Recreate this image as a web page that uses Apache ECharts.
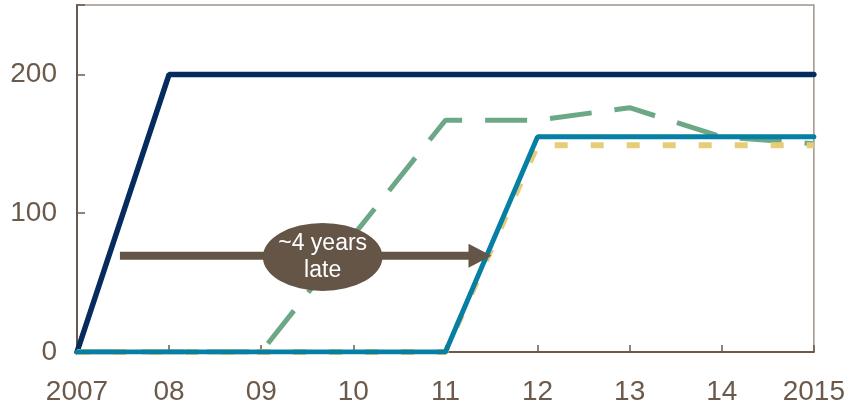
<!DOCTYPE html>
<html><head><meta charset="utf-8">
<script src="https://cdn.jsdelivr.net/npm/echarts@6/dist/echarts.min.js"></script>
<style>html,body{margin:0;padding:0;background:#fff}#c{width:848px;height:410px}</style>
</head><body><div id="c"></div>
<script>
const categories = ['2007','08','09','10','11','12','13','14','2015'];
const navyLine   = [0, 200, 200, 200, 200, 200, 200, 200, 200];
const greenDash  = [0, 0, 0, 84, 167, 167, 176, 155, 150];
const yellowDot  = [0, 0, 0, 0, 0, 149, 149, 149, 149];
const tealLine   = [0, 0, 0, 0, 0, 155, 155, 155, 155];
const yTicks = [0, 100, 200];
// annotation (x in category-index units, y in data units)
const arrowFrom = [0.466, 69.3];
const arrowTo = [4.5, 69.3];
const bubbleAt = [2.667, 68.5];
const bubbleText = '~4 years\nlate';

const brown = '#6b5a4b';
const chart = echarts.init(document.getElementById('c'));
const font = 'Liberation Sans, Arial, sans-serif';
chart.setOption({
  animation: false,
  grid: {left: 77, right: 33, top: 5, bottom: 58, show: true, borderColor: '#a0958a', borderWidth: 1.5},
  xAxis: [{
    type: 'category', data: categories, boundaryGap: false,
    axisLine: {lineStyle: {color: brown, width: 2}},
    axisTick: {inside: true, length: 7, lineStyle: {color: brown, width: 1.5}},
    axisLabel: {color: brown, fontSize: 28, fontFamily: font, margin: 26},
    splitLine: {show: false}
  }, {
    type: 'value', min: 0, max: categories.length - 1, show: false
  }],
  yAxis: {
    type: 'value', min: 0, max: 250, interval: 100,
    axisLine: {show: true, lineStyle: {color: brown, width: 2}},
    axisTick: {show: true, inside: true, length: 8, lineStyle: {color: brown, width: 1.5}},
    axisLabel: {color: brown, fontSize: 28, fontFamily: font, margin: 20,
      formatter: v => yTicks.indexOf(v) >= 0 ? String(v) : ''},
    splitLine: {show: false}
  },
  series: [
    {type: 'line', data: navyLine, symbol: 'none', lineStyle: {color: '#062c5f', width: 5.5, cap: 'round'}},
    {type: 'line', data: greenDash, symbol: 'none', lineStyle: {color: '#6da886', width: 5, type: [42, 23]}},
    {type: 'line', data: yellowDot, symbol: 'none', lineStyle: {color: '#e8cd78', width: 6, type: [13, 23]}},
    {type: 'line', data: tealLine, symbol: 'none', lineStyle: {color: '#0580a4', width: 5, cap: 'round'}}
  ]
});

const conv = d => chart.convertToPixel({xAxisIndex: 1, yAxisIndex: 0}, d);
const p0 = conv(arrowFrom);
const p1 = conv(arrowTo);
const pc = conv(bubbleAt);
const fill = '#655546';
chart.setOption({
  graphic: [
    {type: 'line', shape: {x1: p0[0], y1: p0[1], x2: p1[0] - 20, y2: p1[1]}, style: {stroke: fill, lineWidth: 8}, z: 100},
    {type: 'polygon', shape: {points: [[p1[0] - 23, p1[1] - 12], [p1[0], p1[1]], [p1[0] - 23, p1[1] + 12]]}, style: {fill: fill}, z: 100},
    {type: 'circle', x: pc[0], y: pc[1], scaleX: 1.76, shape: {cx: 0, cy: 0, r: 34}, style: {fill: fill}, z: 101},
    {type: 'text', x: pc[0], y: pc[1], z: 102, style: {text: bubbleText, fill: '#fff', font: '23px ' + font, align: 'center', verticalAlign: 'middle', lineHeight: 27}}
  ]
});
</script></body></html>
